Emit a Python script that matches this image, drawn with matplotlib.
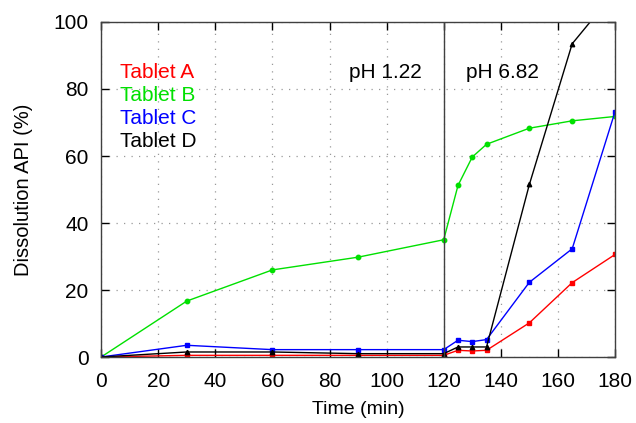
import numpy as np
import matplotlib
matplotlib.use('Agg')
import matplotlib.pyplot as plt

plt.rcParams['font.family'] = ['Liberation Sans', 'DejaVu Sans']
plt.rcParams['font.size'] = 15

# sampling times (min) and % API dissolved per tablet
time = [0, 30, 60, 90, 120, 125, 130, 135, 150, 165, 180]
tablet_a = [0, 0.5, 0.5, 0.5, 0.5, 2.0, 1.8, 2.0, 10.2, 22.2, 30.6]
tablet_b = [0, 16.7, 26.0, 29.8, 35.0, 51.2, 59.7, 63.5, 68.3, 70.5, 71.8]
tablet_c = [0, 3.5, 2.2, 2.2, 2.2, 5.0, 4.6, 5.2, 22.3, 32.3, 73.2]
tablet_d = [0, 1.5, 1.5, 1.0, 1.0, 3.0, 3.0, 3.0, 51.5, 93.5, 109.0]

names = ['Tablet A', 'Tablet B', 'Tablet C', 'Tablet D']
colors = ['#ff0000', '#00e000', '#0000ff', '#000000']
markers = ['s', 'o', 's', '^']
series = [tablet_a, tablet_b, tablet_c, tablet_d]

ph_switch = 120
ph_labels = ['pH 1.22', 'pH 6.82']
ph_label_x = [99.5, 140.5]

fig = plt.figure(figsize=(6.36, 4.23), dpi=100)
ax = fig.add_axes([0.159, 0.156, 0.808, 0.792])

for vals, c, m in zip(series, colors, markers):
    ax.plot(time, vals, color=c, marker=m, markersize=3.2, linewidth=1.0)

ax.axvline(ph_switch, color='#404040', linewidth=1.0)

ax.set_xlim(0, 180)
ax.set_ylim(0, 100)
ax.set_xticks(np.arange(0, 181, 20))
ax.set_yticks(np.arange(0, 101, 20))
ax.tick_params(direction='in', top=True, right=True, length=6, width=1,
               labelsize=15, pad=9)
ax.tick_params(axis='x', pad=11)
ax.grid(True, linestyle=(0, (1, 5)), color='#999999', linewidth=0.9)
for s in ax.spines.values():
    s.set_color('#404040')
    s.set_linewidth(1.0)

ax.set_xlabel('Time (min)', fontsize=14, labelpad=7)
ax.set_ylabel('Dissolution API (%)', fontsize=14.5, labelpad=15)

for lab, x in zip(ph_labels, ph_label_x):
    ax.text(x, 85, lab, ha='center', va='center', fontsize=15)

# legend as coloured text lines
for i, (n, c) in enumerate(zip(names, colors)):
    ax.text(6.7, 85 - 6.85 * i, n, color=c, ha='left', va='center', fontsize=15)

fig.savefig('out.png', dpi=100)
